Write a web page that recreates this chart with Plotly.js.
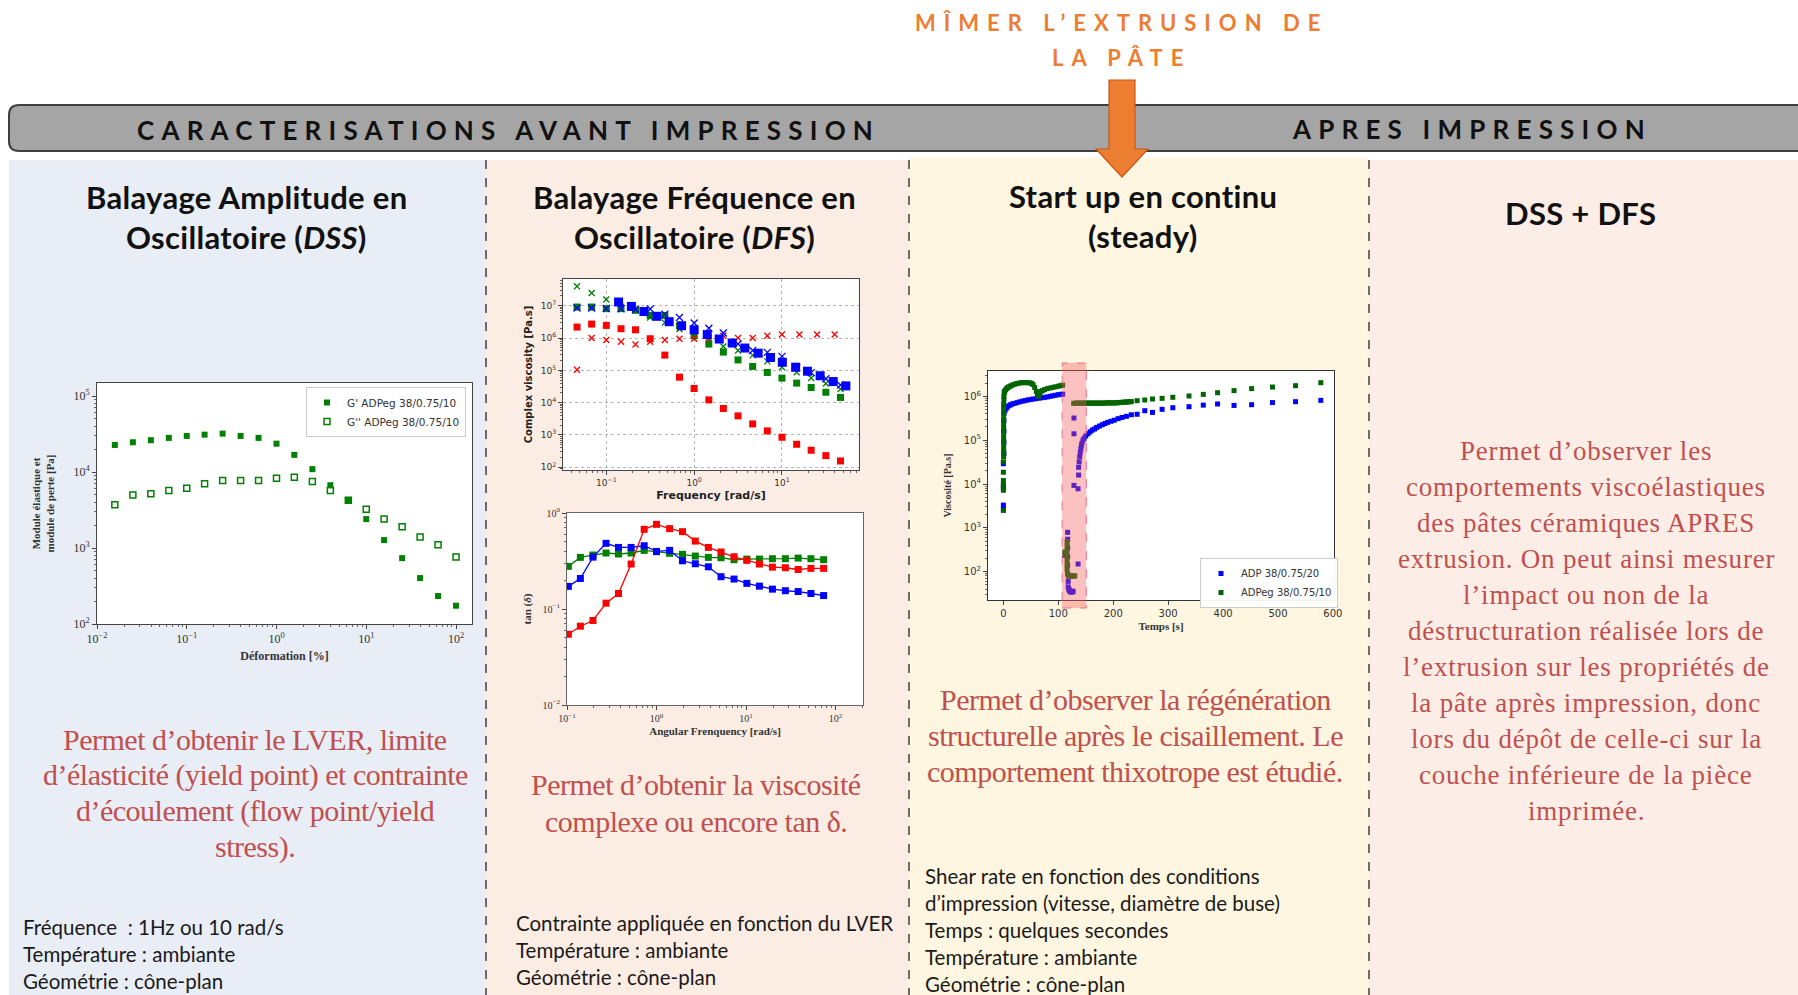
<!DOCTYPE html>
<html><head><meta charset="utf-8">
<script src="https://cdn.plot.ly/plotly-3.0.1.min.js"></script>
<style>html,body{margin:0;padding:0;background:#fff;overflow:hidden}#chart{width:1798px;height:995px}</style>
</head><body><div id="chart"></div>
<script>
// ---------------- DATA ----------------
// DSS : amplitude sweep
const dssStrain = [0.0158, 0.0251, 0.0398, 0.0631, 0.1, 0.158, 0.251, 0.398, 0.631, 1.0, 1.58, 2.51, 3.98, 6.31, 10, 15.8, 25.1, 39.8, 63.1, 100];
const dssGp  = [22700, 24600, 26200, 28100, 29800, 31000, 32000, 29800, 28100, 23600, 16800, 10900, 6700, 4260, 2400, 1270, 736, 402, 233, 174];
const dssGpp = [3700, 5000, 5160, 5700, 6120, 6980, 7720, 7720, 7720, 8280, 8540, 7480, 5700, 4260, 3240, 2400, 1900, 1400, 1100, 760];
const dssLabels = ["G' ADPeg 38/0.75/10", "G'' ADPeg 38/0.75/10"];

// DFS : complex viscosity vs frequency
const dfsFreq = [0.0464, 0.0681, 0.1, 0.147, 0.215, 0.316, 0.464, 0.681, 1.0, 1.47, 2.15, 3.16, 4.64, 6.81, 10, 14.7, 21.5, 31.6, 46.4];
const etaRedSq   = [2.18e6, 2.70e6, 2.46e6, 1.94e6, 1.80e6, 9.5e5, 2.96e5, 6.15e4, 2.74e4, 1.22e4, 6.6e3, 3.9e3, 2.2e3, 1.34e3, 851, 516, 337, 230, 157];
const etaGreenSq = [9.1e6, 9.1e6, 8.1e6, 8.1e6, 7.2e6, 5.0e6, 5.0e6, 2.4e6, 1.17e6, 6.5e5, 3.67e5, 2.1e5, 1.32e5, 8.6e4, 5.75e4, 4.03e4, 2.95e4, 2.1e4, 1.45e4];
const etaGreenX  = [4.0e7, 2.47e7, 1.55e7, 9.1e6, 7.2e6, 4.3e6, 3.0e6, 1.9e6, 1.26e6, 8.4e5, 5.5e5, 4.1e5, 2.9e5, 1.9e5, 1.25e5, 8.7e4, 5.8e4, 3.9e4, 2.65e4];
const etaBlueX   = [8.5e6, 8.5e6, 8.2e6, 8.0e6, 7.8e6, 7.9e6, 5.5e6, 4.3e6, 2.9e6, 2.0e6, 1.43e6, 6.5e5, 4.1e5, 3.6e5, 2.7e5, 1.2e5, 8.5e4, 5.5e4, 3.5e4];
const redXFreq = [0.0464, 0.0681, 0.1, 0.147, 0.215, 0.316, 0.464, 0.681, 1.0, 1.47, 2.15, 3.16, 4.64, 6.81, 10, 15.8, 25.1, 39.8];
const etaRedX  = [1.04e5, 1.0e6, 8.7e5, 7.7e5, 6.3e5, 7.7e5, 8.7e5, 9.5e5, 9.5e5, 1.0e6, 1.17e6, 1.0e6, 1.0e6, 1.17e6, 1.29e6, 1.29e6, 1.29e6, 1.29e6];
const blueFreq = [0.138, 0.193, 0.268, 0.377, 0.52, 0.72, 1.0, 1.41, 1.93, 2.71, 3.78, 5.36, 7.4, 10.1, 14.3, 19.5, 27.2, 38.3, 53.4];
const etaBlueSq = [1.3e7, 9.5e6, 6.6e6, 4.7e6, 3.2e6, 2.4e6, 1.8e6, 1.28e6, 9.3e5, 7.0e5, 4.9e5, 3.4e5, 2.5e5, 1.78e5, 1.25e5, 9.4e4, 6.8e4, 4.5e4, 3.3e4];

// DFS : tan(delta)
const tanFreq  = [0.1035, 0.141, 0.195, 0.273, 0.376, 0.520, 0.728, 1.0, 1.40, 1.95, 2.71, 3.79, 5.25, 7.34, 10.2, 14.1, 19.7, 27.5, 38.2, 53.0, 73.5];
const tanGreen = [0.278, 0.345, 0.365, 0.383, 0.374, 0.383, 0.408, 0.395, 0.380, 0.371, 0.356, 0.345, 0.342, 0.326, 0.331, 0.331, 0.334, 0.334, 0.339, 0.334, 0.326];
const tanBlue  = [0.172, 0.208, 0.347, 0.483, 0.438, 0.438, 0.456, 0.398, 0.408, 0.318, 0.296, 0.275, 0.217, 0.205, 0.185, 0.173, 0.161, 0.155, 0.152, 0.145, 0.138];
const tanRed   = [0.0546, 0.0662, 0.0759, 0.115, 0.145, 0.294, 0.676, 0.762, 0.687, 0.639, 0.510, 0.438, 0.392, 0.350, 0.321, 0.294, 0.273, 0.269, 0.258, 0.265, 0.265];

// Start up (steady)
const adpTime = [
  0, 0, 0, 0, 0, 1, 1, 1, 1, 1.5,
  3, 5, 7, 10, 13, 16, 20, 25, 30, 35, 40, 45, 50, 55, 60, 65, 70, 75, 80, 85, 90, 95, 100, 105, 108,
  112, 117, 117, 117, 117, 117, 117, 118, 118, 119, 120, 121, 122, 123, 124, 125, 126, 127, 128.5, 128.5, 128.5, 136, 136, 137, 137,
  138, 139, 140, 141, 142, 143, 145, 147, 150, 154, 158, 162, 166, 170, 175, 180, 185, 190, 196, 202, 209, 216, 224, 233,
  243.5, 257.5, 271.5, 289, 308.5, 338, 364, 390, 420, 452, 490, 532, 578];
const adpVisc = [
  2.7e3, 3.3e3, 8.0e3, 9.5e3, 2.9e4, 5.0e4, 9.0e4, 1.6e5, 2.8e5, 4.2e5,
  4.8e5, 5.3e5, 5.7e5, 6.1e5, 6.4e5, 6.7e5, 6.9e5, 7.2e5, 7.5e5, 7.8e5, 8.0e5, 8.3e5, 8.5e5, 8.7e5, 8.9e5, 9.1e5, 9.3e5, 9.5e5, 9.7e5, 1.0e6, 1.03e6, 1.06e6, 1.09e6, 1.11e6, 1.12e6,
  235, 790, 550, 350, 220, 140, 90, 60, 45, 40, 38, 36, 35, 35, 34, 35, 36, 35, 3.2e5, 1.4e5, 9.3e3, 150, 7.8e3, 1.6e4, 2.4e4,
  3.2e4, 4.2e4, 5.3e4, 6.3e4, 7.5e4, 8.5e4, 1.0e5, 1.1e5, 1.25e5, 1.4e5, 1.55e5, 1.7e5, 1.8e5, 1.95e5, 2.1e5, 2.25e5, 2.4e5, 2.55e5, 2.7e5, 2.85e5, 3.1e5, 3.3e5, 3.5e5, 3.8e5,
  3.9e5, 4.7e5, 4.3e5, 5.05e5, 5.5e5, 5.8e5, 6.3e5, 6.7e5, 6.2e5, 6.45e5, 7.2e5, 7.55e5, 8.1e5];
const adpegTime = [
  0, 0, 0, 0, 0, 0, 0.5, 0.5, 0.5, 0.5, 0.5, 0.5, 0.5, 0.5, 0.5, 0.5, 0.5, 0.5, 1, 1, 1.5,
  2, 4, 6, 8, 10, 13, 16, 20, 24, 28, 32, 36, 40, 44, 48, 51, 54, 57, 60, 62, 64, 66, 68, 71, 75, 80, 85, 90, 95, 100, 104, 108,
  111.7, 113, 116, 116, 116, 116, 116, 116, 116, 117, 118, 120, 122, 124, 126, 128, 130,
  128, 131, 134, 137, 140, 143, 146, 149, 152, 155, 158, 161, 164, 167, 170, 173, 176, 179, 182, 185, 188, 191, 194, 197, 200, 203, 206, 209, 212, 215, 218, 221, 224, 227, 230, 233,
  243.5, 257.5, 271.5, 289, 308.5, 338, 364, 390, 420, 452, 490, 532, 578];
const adpegVisc = [
  2.5e3, 7.2e3, 9.3e3, 1.2e4, 1.86e4, 3.2e4, 4.2e4, 5.5e4, 7.0e4, 9.0e4, 1.15e5, 1.5e5, 1.9e5, 2.4e5, 3.1e5, 4.0e5, 5.1e5, 6.5e5, 8.3e5, 1.0e6, 1.2e6,
  1.3e6, 1.4e6, 1.5e6, 1.58e6, 1.65e6, 1.72e6, 1.8e6, 1.88e6, 1.95e6, 2.0e6, 2.04e6, 2.05e6, 2.05e6, 2.05e6, 2.03e6, 1.98e6, 1.85e6, 1.6e6, 1.3e6, 1.1e6, 1.0e6, 1.15e6, 1.28e6, 1.35e6, 1.42e6, 1.5e6, 1.55e6, 1.6e6, 1.65e6, 1.7e6, 1.75e6, 1.8e6,
  280, 250, 480, 380, 300, 230, 180, 140, 110, 90, 80, 80, 80, 80, 80, 80, 80,
  6.9e5, 7.0e5, 7.0e5, 7.0e5, 7.0e5, 7.0e5, 7.0e5, 7.0e5, 7.0e5, 7.0e5, 7.0e5, 7.0e5, 7.0e5, 7.0e5, 7.0e5, 7.0e5, 7.0e5, 7.0e5, 7.0e5, 7.0e5, 7.1e5, 7.1e5, 7.1e5, 7.1e5, 7.1e5, 7.1e5, 7.1e5, 7.2e5, 7.2e5, 7.3e5, 7.3e5, 7.4e5, 7.4e5, 7.5e5, 7.5e5, 7.6e5,
  7.96e5, 8.25e5, 8.7e5, 9.0e5, 9.5e5, 1.02e6, 1.11e6, 1.21e6, 1.35e6, 1.50e6, 1.63e6, 1.75e6, 2.05e6];
const steadyLabels = ['ADP 38/0.75/20', 'ADPeg 38/0.75/10'];

// tick labels
const pw = n => '10<sup>' + (n < 0 ? '\u2212' + (-n) : n) + '</sup>';
const dssXTickVals = [0.01, 0.1, 1, 10, 100];
const dssXTickText = [pw(-2), pw(-1), pw(0), pw(1), pw(2)];
const dssYTickVals = [100, 1000, 10000, 100000];
const dssYTickText = [pw(2), pw(3), pw(4), pw(5)];
const etaXTickVals = [0.1, 1, 10];
const etaXTickText = [pw(-1), pw(0), pw(1)];
const etaYTickVals = [1e2, 1e3, 1e4, 1e5, 1e6, 1e7];
const etaYTickText = [pw(2), pw(3), pw(4), pw(5), pw(6), pw(7)];
const tanXTickVals = [0.1, 1, 10, 100];
const tanXTickText = [pw(-1), pw(0), pw(1), pw(2)];
const tanYTickVals = [0.01, 0.1, 1];
const tanYTickText = [pw(-2), pw(-1), pw(0)];
const stYTickVals = [1e2, 1e3, 1e4, 1e5, 1e6];
const stYTickText = [pw(2), pw(3), pw(4), pw(5), pw(6)];

// texts
const headerOrange = ['MÎMER L’EXTRUSION DE', 'LA PÂTE'];
const barLeft = 'CARACTERISATIONS AVANT IMPRESSION';
const barRight = 'APRES IMPRESSION';
const titles1 = ['Balayage Amplitude en', 'Oscillatoire (<i>DSS</i>)'];
const titles2 = ['Balayage Fréquence en', 'Oscillatoire (<i>DFS</i>)'];
const titles3 = ['Start up en continu', '(steady)'];
const titles4 = ['DSS + DFS'];
const red1 = ['Permet d’obtenir le LVER, limite', 'd’élasticité (yield point) et contrainte', 'd’écoulement (flow point/yield', 'stress).'];
const red2 = ['Permet d’obtenir la viscosité', 'complexe ou encore tan δ.'];
const red3 = ['Permet d’observer la régénération', 'structurelle après le cisaillement. Le', 'comportement thixotrope est étudié.'];
const red4 = ['Permet d’observer les', 'comportements viscoélastiques', 'des pâtes céramiques APRES', 'extrusion. On peut ainsi mesurer', 'l’impact ou non de la', 'déstructuration réalisée lors de', 'l’extrusion sur les propriétés de', 'la pâte après impression, donc', 'lors du dépôt de celle-ci sur la', 'couche inférieure de la pièce', 'imprimée.'];
const info1 = ['Fréquence\u00a0\u00a0: 1Hz ou 10 rad/s', 'Température : ambiante', 'Géométrie\u00a0: cône-plan'];
const info2 = ['Contrainte appliquée en fonction du LVER', 'Température : ambiante', 'Géométrie\u00a0: cône-plan'];
const info3 = ['Shear rate en fonction des conditions', 'd’impression (vitesse, diamètre de buse)', 'Temps : quelques secondes', 'Température : ambiante', 'Géométrie\u00a0: cône-plan'];

// ---------------- LAYOUT ----------------
const W = 1798, H = 995;
const X = v => v / W;
const Y = v => 1 - v / H;
const SERIF = 'Liberation Serif, DejaVu Serif, serif';
const SANS = 'DejaVu Sans, sans-serif';
const LATO = 'Lato, Open Sans, sans-serif';

const boxes = {dss: [97, 472, 383, 624], eta: [563, 859, 279, 470], tan: [567, 863, 513, 705], st: [988, 1334, 371, 600]};
const dom = b => ({x: [X(b[0]), X(b[1])], y: [Y(b[3]), Y(b[2])]});

function ax(o) {
  return Object.assign({showline: true, mirror: true, linecolor: '#444', linewidth: 1, ticks: 'outside', ticklen: 4,
    tickcolor: '#444', showgrid: false, zeroline: false, automargin: false, fixedrange: true}, o);
}
const minorLog = {ticks: 'outside', ticklen: 2, tickcolor: '#666', dtick: 'D1'};

const shapes = [];
function rect(x0, x1, y0, y1, fill, extra) {
  shapes.push(Object.assign({type: 'rect', xref: 'paper', yref: 'paper', x0: X(x0), x1: X(x1), y0: Y(y1), y1: Y(y0),
    fillcolor: fill, line: {width: 0}, layer: 'below'}, extra || {}));
}
// panels
rect(9, 486, 160, 995, '#E8EDF6');
rect(486, 909, 160, 995, '#FCEDE4');
rect(909, 1369, 158, 995, '#FEF6E0');
rect(1369, 1798, 160, 995, '#FCEEE7');
// chart backgrounds
Object.values(boxes).forEach(b => rect(b[0], b[1], b[2], b[3], '#ffffff'));
// dashed separators
[486, 909, 1369].forEach(xp => shapes.push({type: 'line', xref: 'paper', yref: 'paper', x0: X(xp), x1: X(xp), y0: Y(160), y1: Y(995),
  line: {color: '#333', width: 1.4, dash: 'dash'}, layer: 'below'}));
// grey bar with rounded left end
(function () {
  const x0 = 9, x1 = 1815, y0 = 105, y1 = 151, r = 10;
  const p = (x, y) => X(x) + ',' + Y(y);
  const path = 'M' + p(x0 + r, y0) + ' L' + p(x1, y0) + ' L' + p(x1, y1) + ' L' + p(x0 + r, y1) +
    ' Q' + p(x0, y1) + ' ' + p(x0, y1 - r) + ' L' + p(x0, y0 + r) + ' Q' + p(x0, y0) + ' ' + p(x0 + r, y0) + ' Z';
  shapes.push({type: 'path', xref: 'paper', yref: 'paper', path: path, fillcolor: '#A5A5A5', line: {color: '#3F3F3F', width: 2}, layer: 'below'});
})();
// orange arrow
(function () {
  const p = (x, y) => X(x) + ',' + Y(y);
  const pts = [[1109, 80], [1135, 80], [1135, 149], [1148, 149], [1122, 177], [1096, 149], [1109, 149]];
  const path = 'M' + pts.map(q => p(q[0], q[1])).join(' L') + ' Z';
  shapes.push({type: 'path', xref: 'paper', yref: 'paper', path: path, fillcolor: '#ED7D31', line: {color: '#C65A17', width: 1.2}, layer: 'above'});
})();
// shaded shear window in steady chart
shapes.push({type: 'rect', xref: 'x4', yref: 'paper', x0: 107, x1: 151, y0: Y(608), y1: Y(363),
  fillcolor: 'rgba(245,90,90,0.38)', line: {color: 'rgba(235,100,130,0.9)', width: 1, dash: 'dash'}, layer: 'above'});

const annotations = [];
function txt(x, y, text, font, xanchor) {
  annotations.push({xref: 'paper', yref: 'paper', x: X(x), y: Y(y), text: text, showarrow: false,
    xanchor: xanchor || 'center', yanchor: 'middle', font: font, align: xanchor === 'left' ? 'left' : 'center'});
}
const sp = (s, ls) => '<span style="letter-spacing:' + ls + 'px">' + s + '</span>';
const orangeFont = {family: LATO, size: 22, color: '#ED7D31', weight: 'bold'};
txt(1121, 23, sp(headerOrange[0], 8), orangeFont);
txt(1121, 58, sp(headerOrange[1], 8), orangeFont);
const barFont = {family: LATO, size: 26, color: '#111', weight: 'bold'};
txt(509, 130, sp(barLeft, 7.2), barFont);
txt(1472, 129, sp(barRight, 7.2), barFont);
const titleFont = {family: LATO, size: 31, color: '#111', weight: 'bold'};
titles1.forEach((t, i) => txt(246, 197 + i * 40, sp(t, 0.3), titleFont));
titles2.forEach((t, i) => txt(694, 197 + i * 40, sp(t, 0.3), titleFont));
titles3.forEach((t, i) => txt(1143, 196 + i * 40, sp(t, 0.3), titleFont));
titles4.forEach((t, i) => txt(1580, 213 + i * 40, sp(t, 0.3), titleFont));
const redFont = {family: SERIF, size: 30, color: '#C0504D'};
red1.forEach((t, i) => txt(255, 739 + i * 36, sp(t, -0.5), redFont));
red2.forEach((t, i) => txt(696, 784 + i * 37, sp(t, -0.5), redFont));
red3.forEach((t, i) => txt(1135, 699 + i * 36.3, sp(t, -0.5), redFont));
const redFont4 = {family: SERIF, size: 27, color: '#C0504D'};
red4.forEach((t, i) => txt(1586, 451 + i * 36, sp(t, 0.8), redFont4));
const infoFont = {family: LATO, size: 20.5, color: '#1a1a1a'};
info1.forEach((t, i) => txt(21, 927 + i * 26.8, t, infoFont, 'left'));
info2.forEach((t, i) => txt(514, 923 + i * 27, t, infoFont, 'left'));
info3.forEach((t, i) => txt(923, 876 + i * 27, t, infoFont, 'left'));

const d1 = dom(boxes.dss), d2 = dom(boxes.eta), d3 = dom(boxes.tan), d4 = dom(boxes.st);
const serifTick = s => ({family: SERIF, size: s, color: '#333'});
const sansTick = s => ({family: SANS, size: s, color: '#333'});

const layout = {
  width: W, height: H, margin: {l: 0, r: 0, t: 0, b: 0},
  paper_bgcolor: '#ffffff', plot_bgcolor: 'rgba(0,0,0,0)',
  showlegend: true,
  legend: {x: X(306), y: Y(387), xanchor: 'left', yanchor: 'top', xref: 'paper', yref: 'paper',
    bgcolor: 'rgba(255,255,255,0.95)', bordercolor: '#cccccc', borderwidth: 1,
    font: {family: SANS, size: 10.5, color: '#333'}, itemwidth: 30, tracegroupgap: 0},
  legend2: {x: X(1200), y: Y(558), xanchor: 'left', yanchor: 'top', xref: 'paper', yref: 'paper',
    bgcolor: 'rgba(255,255,255,0.95)', bordercolor: '#cccccc', borderwidth: 1,
    font: {family: SANS, size: 10, color: '#333'}, itemwidth: 30, tracegroupgap: 0},
  xaxis: ax({domain: d1.x, anchor: 'y', type: 'log', range: [-2, 2.178], tickmode: 'array', tickvals: dssXTickVals, ticktext: dssXTickText,
    tickfont: serifTick(12), minor: minorLog,
    title: {text: 'Déformation [%]', font: {family: SERIF, size: 12, color: '#333', weight: 'bold'}, standoff: 6}}),
  yaxis: ax({domain: d1.y, anchor: 'x', type: 'log', range: [2, 5.171], tickmode: 'array', tickvals: dssYTickVals, ticktext: dssYTickText,
    tickfont: serifTick(12), minor: minorLog,
    title: {text: 'Module élastique et<br>module de perte [Pa]', font: {family: SERIF, size: 11, color: '#333', weight: 'bold'}, standoff: 16}}),
  xaxis2: ax({domain: d2.x, anchor: 'y2', type: 'log', range: [-1.493, 1.877], tickmode: 'array', tickvals: etaXTickVals, ticktext: etaXTickText,
    tickfont: sansTick(9), minor: minorLog, showgrid: true, gridcolor: '#b5b5b5', griddash: 'dot', gridwidth: 1,
    title: {text: 'Frequency [rad/s]', font: {family: SANS, size: 11, color: '#222', weight: 'bold'}, standoff: 4}}),
  yaxis2: ax({domain: d2.y, anchor: 'x2', type: 'log', range: [1.917, 7.826], tickmode: 'array', tickvals: etaYTickVals, ticktext: etaYTickText,
    tickfont: sansTick(9), minor: minorLog, showgrid: true, gridcolor: '#b5b5b5', griddash: 'dot', gridwidth: 1,
    title: {text: 'Complex viscosity [Pa.s]', font: {family: SANS, size: 10, color: '#222', weight: 'bold'}, standoff: 6}}),
  xaxis3: ax({domain: d3.x, anchor: 'y3', type: 'log', range: [-1, 2.306], tickmode: 'array', tickvals: tanXTickVals, ticktext: tanXTickText,
    tickfont: serifTick(10), minor: minorLog, linecolor: '#666',
    title: {text: 'Angular Frenquency [rad/s]', font: {family: SERIF, size: 11, color: '#333', weight: 'bold'}, standoff: 4}}),
  yaxis3: ax({domain: d3.y, anchor: 'x3', type: 'log', range: [-2, 0], tickmode: 'array', tickvals: tanYTickVals, ticktext: tanYTickText,
    tickfont: serifTick(10), minor: minorLog, linecolor: '#666',
    title: {text: 'tan (<i>δ</i>)', font: {family: SERIF, size: 11, color: '#333', weight: 'bold'}, standoff: 8}}),
  xaxis4: ax({domain: d4.x, anchor: 'y4', type: 'linear', range: [-28, 602], dtick: 100, tick0: 0,
    tickfont: sansTick(10), linecolor: '#333',
    title: {text: 'Temps [s]', font: {family: SERIF, size: 11, color: '#333', weight: 'bold'}, standoff: 4}}),
  yaxis4: ax({domain: d4.y, anchor: 'x4', type: 'log', range: [1.354, 6.578], tickmode: 'array', tickvals: stYTickVals, ticktext: stYTickText,
    tickfont: sansTick(10), minor: minorLog, linecolor: '#333',
    title: {text: 'Viscosité [Pa.s]', font: {family: SERIF, size: 10, color: '#333', weight: 'bold'}, standoff: 10}}),
  shapes: shapes,
  annotations: annotations
};

// ---------------- TRACES ----------------
const RED = '#FF0000', GREEN = '#008000', BLUE = '#0000FF', DGREEN = '#006400';
const traces = [
  {type: 'scatter', mode: 'markers', x: dssStrain, y: dssGp, xaxis: 'x', yaxis: 'y', name: dssLabels[0], legend: 'legend',
    marker: {symbol: 'square', size: 6, color: GREEN}},
  {type: 'scatter', mode: 'markers', x: dssStrain, y: dssGpp, xaxis: 'x', yaxis: 'y', name: dssLabels[1], legend: 'legend',
    marker: {symbol: 'square-open', size: 6, color: GREEN, line: {width: 1.5, color: GREEN}}},

  {type: 'scatter', mode: 'markers', x: dfsFreq, y: etaGreenSq, xaxis: 'x2', yaxis: 'y2', showlegend: false,
    marker: {symbol: 'square', size: 7, color: GREEN}},
  {type: 'scatter', mode: 'markers', x: dfsFreq, y: etaGreenX, xaxis: 'x2', yaxis: 'y2', showlegend: false,
    marker: {symbol: 'x-thin-open', size: 6, color: GREEN, line: {width: 1.3, color: GREEN}}},
  {type: 'scatter', mode: 'markers', x: dfsFreq, y: etaRedSq, xaxis: 'x2', yaxis: 'y2', showlegend: false,
    marker: {symbol: 'square', size: 7, color: RED}},
  {type: 'scatter', mode: 'markers', x: redXFreq, y: etaRedX, xaxis: 'x2', yaxis: 'y2', showlegend: false,
    marker: {symbol: 'x-thin-open', size: 6, color: RED, line: {width: 1.3, color: RED}}},
  {type: 'scatter', mode: 'markers', x: blueFreq, y: etaBlueSq, xaxis: 'x2', yaxis: 'y2', showlegend: false,
    marker: {symbol: 'square', size: 9, color: BLUE}},
  {type: 'scatter', mode: 'markers', x: dfsFreq, y: etaBlueX, xaxis: 'x2', yaxis: 'y2', showlegend: false,
    marker: {symbol: 'x-thin-open', size: 7, color: BLUE, line: {width: 1.3, color: BLUE}}},

  {type: 'scatter', mode: 'lines+markers', x: tanFreq, y: tanGreen, xaxis: 'x3', yaxis: 'y3', showlegend: false,
    line: {color: GREEN, width: 1.3}, marker: {symbol: 'square', size: 7, color: GREEN}},
  {type: 'scatter', mode: 'lines+markers', x: tanFreq, y: tanBlue, xaxis: 'x3', yaxis: 'y3', showlegend: false,
    line: {color: BLUE, width: 1.3}, marker: {symbol: 'square', size: 7, color: BLUE}},
  {type: 'scatter', mode: 'lines+markers', x: tanFreq, y: tanRed, xaxis: 'x3', yaxis: 'y3', showlegend: false,
    line: {color: RED, width: 1.3}, marker: {symbol: 'square', size: 7, color: RED}},

  {type: 'scatter', mode: 'markers', x: adpTime, y: adpVisc, xaxis: 'x4', yaxis: 'y4', name: steadyLabels[0], legend: 'legend2',
    marker: {symbol: 'square', size: 5, color: BLUE}},
  {type: 'scatter', mode: 'markers', x: adpegTime, y: adpegVisc, xaxis: 'x4', yaxis: 'y4', name: steadyLabels[1], legend: 'legend2',
    marker: {symbol: 'square', size: 5, color: DGREEN}}
];

Plotly.newPlot('chart', traces, layout, {displayModeBar: false, staticPlot: true});
</script></body></html>
